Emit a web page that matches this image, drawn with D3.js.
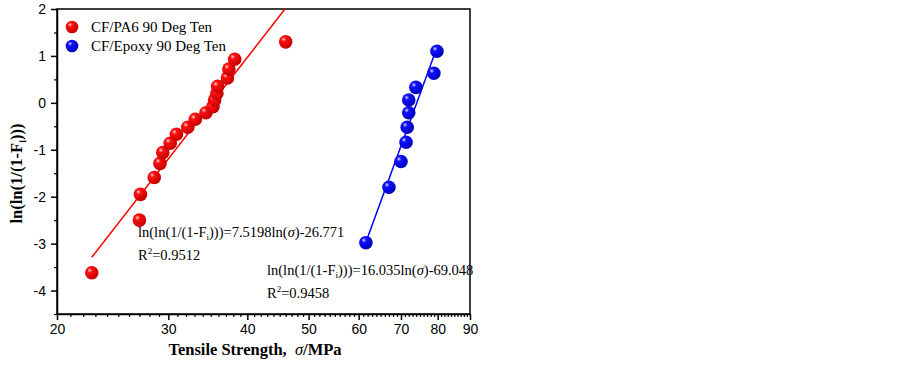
<!DOCTYPE html>
<html>
<head>
<meta charset="utf-8">
<script src="https://cdn.jsdelivr.net/npm/d3@7"></script>
<style>
  body { margin: 0; background: #fff; }
  svg { display: block; }
</style>
</head>
<body>
<div id="chart"></div>
<script>
// CF/PA6 90 Deg Ten
const pa6Strength = [22.7, 27.0, 27.1, 28.5, 29.1, 29.4, 30.2, 30.9, 32.2, 33.1, 34.4, 35.3, 35.5, 35.8, 35.9, 37.2, 37.4, 38.2, 46.0];
const pa6Weibull  = [-3.62, -2.5, -1.95, -1.59, -1.29, -1.06, -0.86, -0.67, -0.52, -0.35, -0.21, -0.08, 0.06, 0.2, 0.35, 0.53, 0.72, 0.93, 1.3];
// CF/Epoxy 90 Deg Ten
const epoxyStrength = [61.6, 67.0, 70.0, 71.3, 71.6, 72.0, 72.0, 73.9, 78.9, 79.8];
const epoxyWeibull  = [-2.98, -1.8, -1.25, -0.84, -0.52, -0.21, 0.06, 0.33, 0.63, 1.1];

const pa6Fit = { slope: 7.5198, intercept: -26.771, r2: "0.9512" };
const epoxyFit = { slope: 16.035, intercept: -69.048, r2: "0.9458" };

const xTicks = [20, 30, 40, 50, 60, 70, 80, 90];
const yTicks = [-4, -3, -2, -1, 0, 1, 2];

const W = 903, H = 366;
const margin = { top: 9, right: 433, bottom: 52, left: 57 };
const width = W - margin.left - margin.right;
const height = H - margin.top - margin.bottom;

const svg = d3.select("#chart").append("svg")
  .attr("width", W).attr("height", H);

const defs = svg.append("defs");
function sphere(id, light, mid, dark) {
  const g = defs.append("radialGradient").attr("id", id)
    .attr("cx", "35%").attr("cy", "32%").attr("r", "70%");
  g.append("stop").attr("offset", "0%").attr("stop-color", light);
  g.append("stop").attr("offset", "25%").attr("stop-color", mid);
  g.append("stop").attr("offset", "100%").attr("stop-color", dark);
}
sphere("ballRed", "#ffd8d8", "#ff1010", "#c00000");
sphere("ballBlue", "#d8d8ff", "#1010ff", "#0000b8");

defs.append("clipPath").attr("id", "clip-plot")
  .append("rect").attr("width", width).attr("height", height);

const x = d3.scaleLog().domain([20, 90]).range([0, width]);
const y = d3.scaleLinear().domain([-4.5, 2]).range([height, 0]);

const g = svg.append("g").attr("transform", `translate(${margin.left},${margin.top})`);

// frame
g.append("rect").attr("width", width).attr("height", height)
  .attr("fill", "none").attr("stroke", "#000").attr("stroke-width", 1.5);

const tickFont = "Liberation Sans, Arial, sans-serif";

// x axis
const xMinor = d3.range(21, 90).filter(v => !xTicks.includes(v));
g.append("g").attr("transform", `translate(0,${height})`)
  .call(d3.axisBottom(x).tickValues(xMinor).tickSize(3).tickFormat(""))
  .call(a => a.select(".domain").remove())
  .selectAll("line").attr("stroke-width", 1.2);
const xAxis = g.append("g").attr("transform", `translate(0,${height})`)
  .call(d3.axisBottom(x).tickValues(xTicks).tickSize(6).tickSizeOuter(0).tickFormat(d => String(d)).tickPadding(4));
xAxis.select(".domain").attr("stroke-width", 1.5);
xAxis.selectAll("line").attr("stroke-width", 1.5);
xAxis.selectAll("text").attr("font-family", tickFont).attr("font-size", 14).attr("fill", "#000");

// y axis
const yMinor = d3.range(-4.5, 2, 1);
g.append("g")
  .call(d3.axisLeft(y).tickValues(yMinor).tickSize(3).tickFormat(""))
  .call(a => a.select(".domain").remove())
  .selectAll("line").attr("stroke-width", 1.2);
const yAxis = g.append("g")
  .call(d3.axisLeft(y).tickValues(yTicks).tickSize(6).tickSizeOuter(0).tickFormat(d => String(d)).tickPadding(5));
yAxis.select(".domain").attr("stroke-width", 1.5);
yAxis.selectAll("line").attr("stroke-width", 1.5);
yAxis.selectAll("text").attr("font-family", tickFont).attr("font-size", 14).attr("fill", "#000");

// axis titles
const xt = svg.append("text")
  .attr("x", 255).attr("y", 355)
  .attr("text-anchor", "middle")
  .attr("font-family", "Liberation Serif, Times New Roman, serif")
  .attr("font-size", 16.5).attr("font-weight", "bold");
xt.append("tspan").text("Tensile Strength,\u00a0\u00a0");
xt.append("tspan").attr("font-style", "italic").attr("font-weight", "normal").text("\u03c3");
xt.append("tspan").text("/MPa");

const yt = svg.append("text")
  .attr("transform", `translate(22,${margin.top + height / 2 + 12}) rotate(-90)`)
  .attr("text-anchor", "middle")
  .attr("font-family", "Liberation Serif, Times New Roman, serif")
  .attr("font-size", 16.5).attr("font-weight", "bold");
yt.append("tspan").text("ln(ln(1/(1-F");
yt.append("tspan").attr("font-size", 10).attr("dy", 4).text("i");
yt.append("tspan").attr("dy", -4).text(")))");

// fits and points
const plot = g.append("g").attr("clip-path", "url(#clip-plot)");
const series = [
  { xs: pa6Strength, ys: pa6Weibull, fit: pa6Fit, color: "#ff0000", ball: "ballRed" },
  { xs: epoxyStrength, ys: epoxyWeibull, fit: epoxyFit, color: "#0000ff", ball: "ballBlue" }
];
series.forEach(s => {
  const ends = d3.extent(s.xs);
  plot.append("line")
    .attr("x1", x(ends[0])).attr("y1", y(s.fit.slope * Math.log(ends[0]) + s.fit.intercept))
    .attr("x2", x(ends[1])).attr("y2", y(s.fit.slope * Math.log(ends[1]) + s.fit.intercept))
    .attr("stroke", s.color).attr("stroke-width", 1.5);
});
series.forEach(s => {
  g.append("g").selectAll("circle")
    .data(s.xs.map((v, i) => [v, s.ys[i]]))
    .join("circle")
    .attr("cx", d => x(d[0])).attr("cy", d => y(d[1]))
    .attr("r", 6.8).attr("fill", `url(#${s.ball})`);
});

// legend
const legend = g.append("g").attr("transform", "translate(15,18)");
[["CF/PA6 90 Deg Ten", "ballRed"], ["CF/Epoxy 90 Deg Ten", "ballBlue"]].forEach((d, i) => {
  const row = legend.append("g").attr("transform", `translate(0,${i * 19})`);
  row.append("circle").attr("r", 6.3).attr("fill", `url(#${d[1]})`);
  row.append("text").attr("x", 19).attr("y", 5)
    .attr("font-family", "Liberation Serif, Times New Roman, serif")
    .attr("font-size", 15).text(d[0]);
});

// equations
function equation(px, py, fit) {
  const t = svg.append("text").attr("x", px).attr("y", py)
    .attr("font-family", "Liberation Serif, Times New Roman, serif").attr("font-size", 14.5);
  t.append("tspan").text("ln(ln(1/(1-F");
  t.append("tspan").attr("font-size", 9).attr("dy", 3).text("i");
  t.append("tspan").attr("dy", -3).text(`)))=${fit.slope}ln(`);
  t.append("tspan").attr("font-style", "italic").text("\u03c3");
  t.append("tspan").text(`)${fit.intercept}`);
  const r = svg.append("text").attr("x", px).attr("y", py + 23)
    .attr("font-family", "Liberation Serif, Times New Roman, serif").attr("font-size", 14.5);
  r.append("tspan").text("R");
  r.append("tspan").attr("font-size", 9).attr("dy", -6).text("2");
  r.append("tspan").attr("dy", 6).text(`=${fit.r2}`);
}
equation(138, 237, pa6Fit);
equation(267, 275, epoxyFit);
</script>
</body>
</html>
